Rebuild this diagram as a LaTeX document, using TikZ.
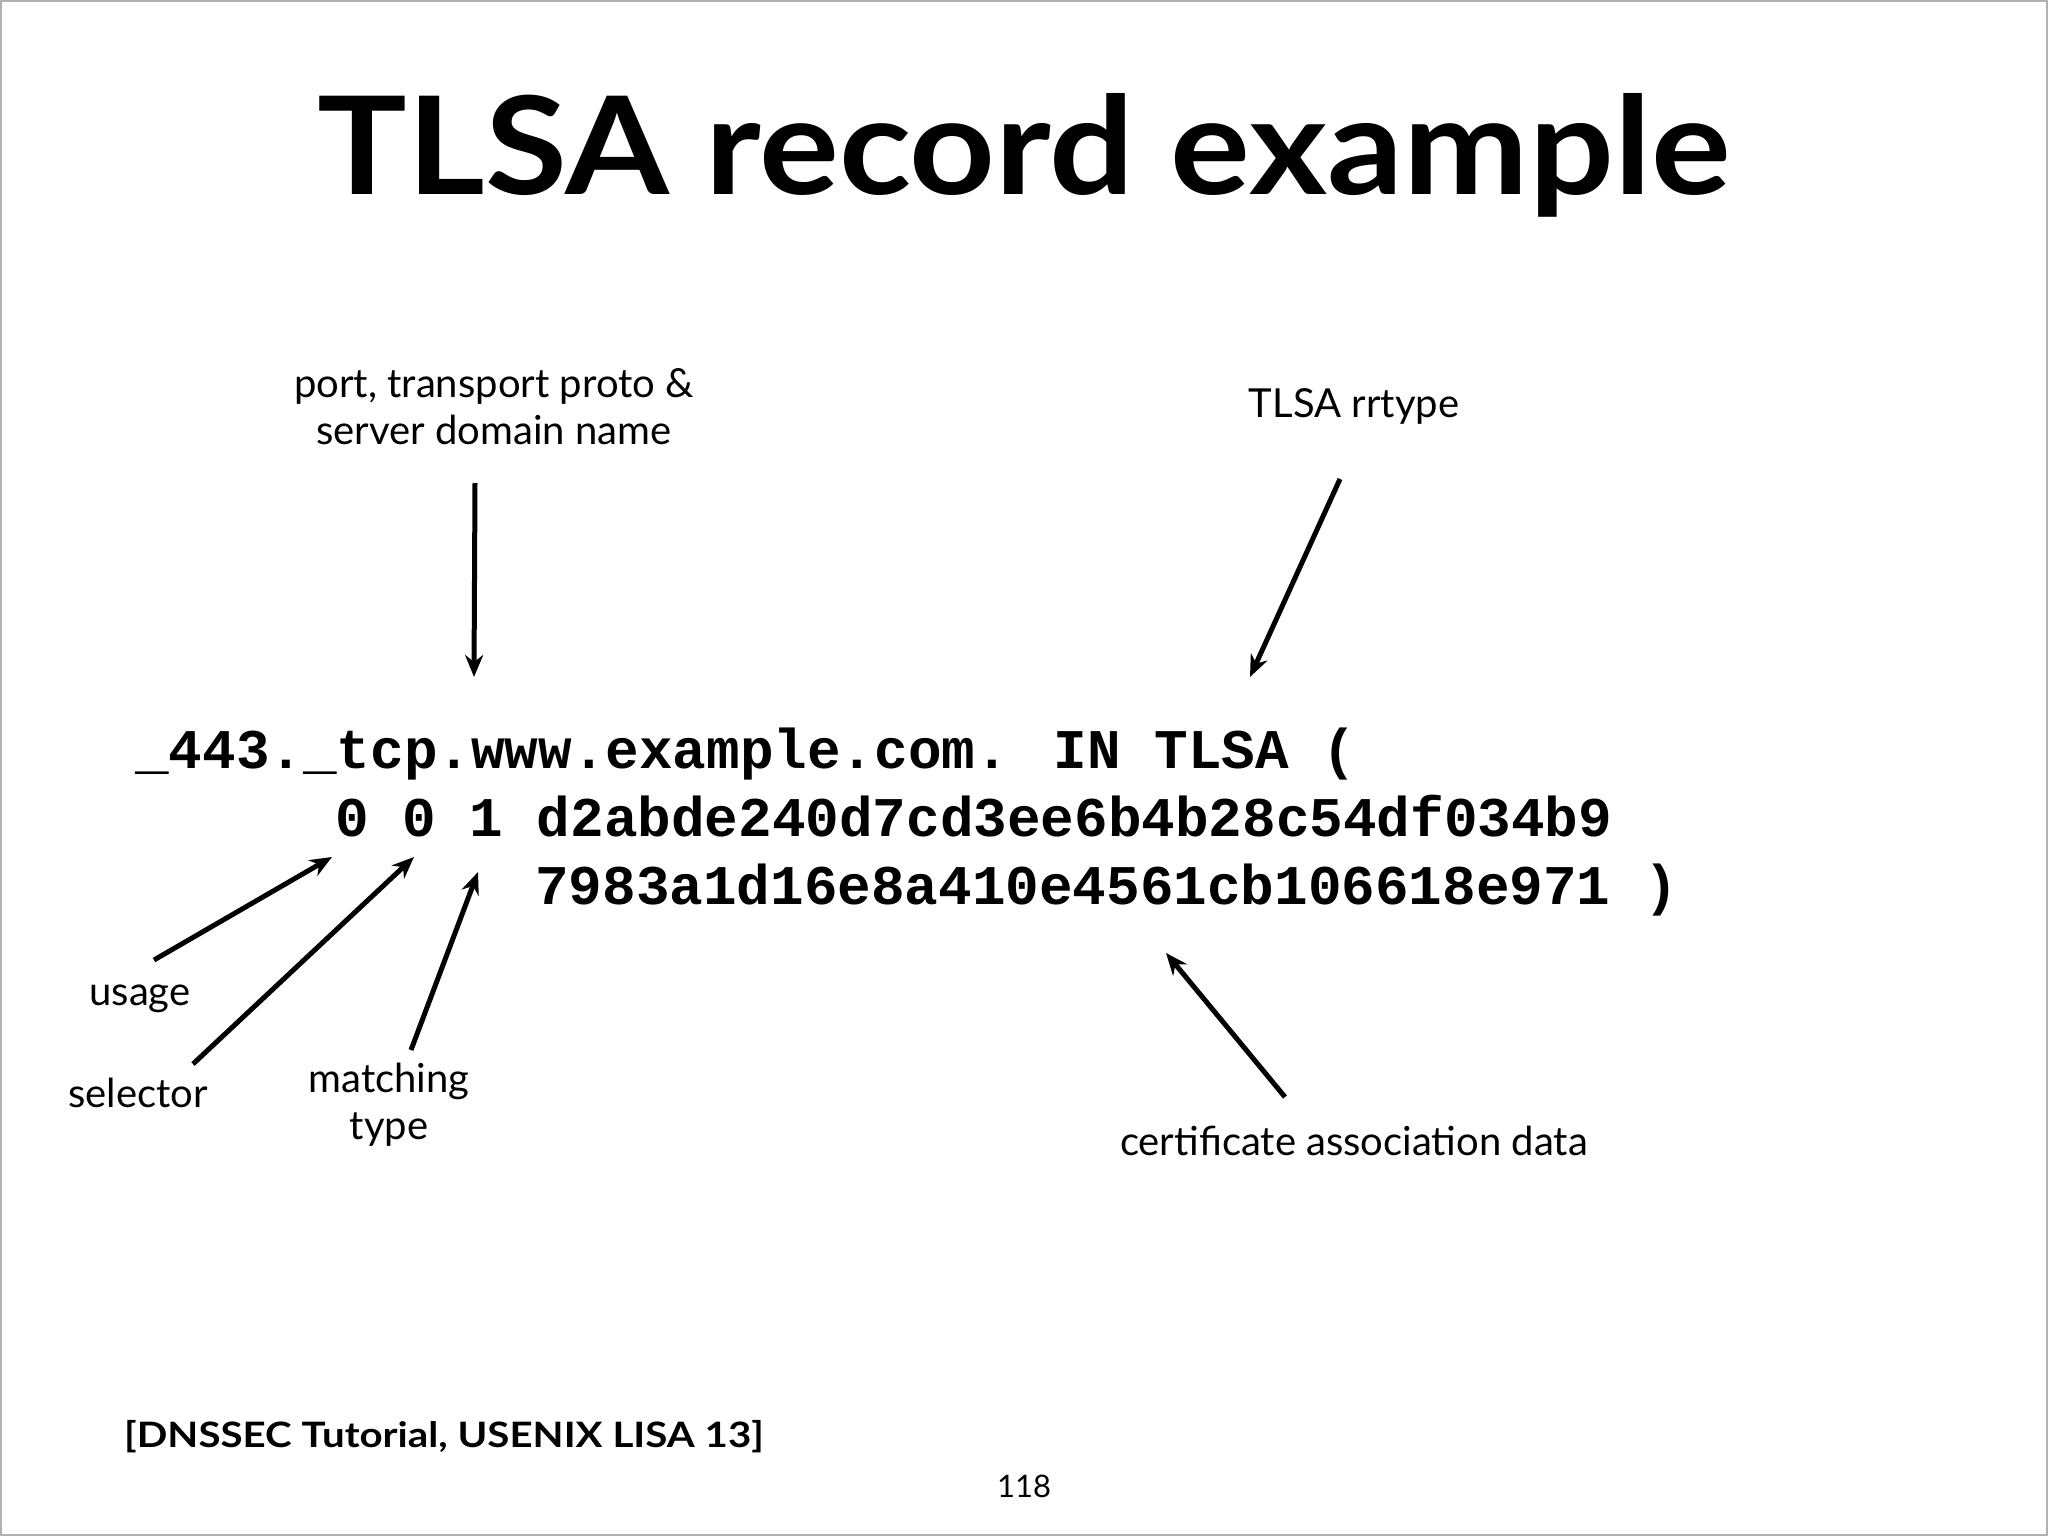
\documentclass[tikz,border=0pt]{standalone}
\usepackage{fontspec}
\setmainfont{Lato}
\newfontfamily\codef{Liberation Mono}
\usetikzlibrary{arrows.meta}
\begin{document}
\begin{tikzpicture}[x=1pt,y=-1pt,
  lab/.style={font=\fontsize{40}{47}\selectfont,align=center,inner sep=0},
  code/.style={font=\fontsize{56}{60}\selectfont\codef\bfseries,anchor=base west,inner sep=0},
  arr/.style={line width=5pt,-{Stealth[length=22pt,width=18pt]}}]
\useasboundingbox (0,0) rectangle (2048,1536);
\draw[gray!60,line width=1.5pt] (1,1) rectangle (2047,1535);
\node[font=\fontsize{136}{140}\selectfont\bfseries,inner sep=0] (title) at (1024,155) {\scalebox{1.1}[1]{TLSA record example}};
\node[code] (l1) at (135,768) {\_443.\_tcp.www.example.com. IN TLSA (};
\node[code] (l2) at (335,836) {0 0 1 d2abde240d7cd3ee6b4b28c54df034b9};
\node[code] (l3) at (535,904) {7983a1d16e8a410e4561cb106618e971 )};
\node[lab] (port) at (494,407) {port, transport proto \&\\server domain name};
\node[lab] (rr) at (1354,406) {TLSA rrtype};
\node[lab] (usage) at (140,999) {usage};
\node[lab] (sel) at (138,1093) {selector};
\node[lab] (mt) at (389,1105) {matching\\type};
\node[lab] (cad) at (1354,1141) {certificate association data};
\node[font=\fontsize{35}{40}\selectfont\bfseries,anchor=west,inner sep=0] (cite) at (124,1437) {\scalebox{1.15}[1]{[DNSSEC Tutorial, USENIX LISA 13]}};
\node[font=\fontsize{31}{36}\selectfont,inner sep=0] (pg) at (1024,1486) {118};
\coordinate (a1s) at (475,483); \coordinate (a1e) at (474,677);
\coordinate (a2s) at (1340,479); \coordinate (a2e) at (1250,677);
\coordinate (a3s) at (154,960); \coordinate (a3e) at (332,857);
\coordinate (a4s) at (193,1064); \coordinate (a4e) at (414,857);
\coordinate (a5s) at (411,1050); \coordinate (a5e) at (478,872);
\coordinate (a6s) at (1285,1097); \coordinate (a6e) at (1166,953);
\foreach \i in {1,...,6} \draw[arr] (a\i s) -- (a\i e);
\end{tikzpicture}
\end{document}
